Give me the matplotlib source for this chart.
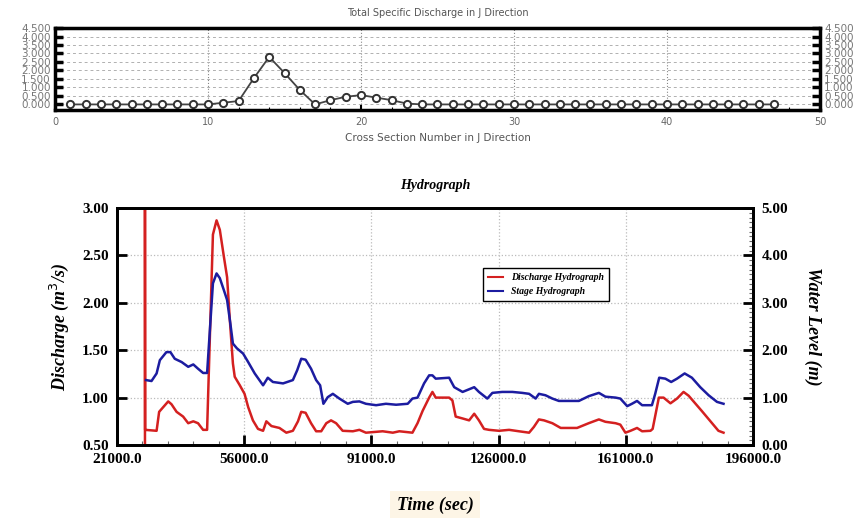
import matplotlib
matplotlib.use("Agg")
import matplotlib.pyplot as plt
from matplotlib.ticker import MultipleLocator, FixedLocator, FormatStrFormatter

# top panel: total specific discharge per cross section
section = [1, 2, 3, 4, 5, 6, 7, 8, 9, 10, 11, 12, 13, 14, 15, 16, 17, 18, 19, 20,
           21, 22, 23, 24, 25, 26, 27, 28, 29, 30, 31, 32, 33, 34, 35, 36, 37, 38,
           39, 40, 41, 42, 43, 44, 45, 46, 47]
specific_q = [0.0, 0.0, 0.0, 0.0, 0.0, 0.0, 0.0, 0.0, 0.0, 0.0, 0.1, 0.2, 1.55, 2.8,
              1.85, 0.85, 0.0, 0.25, 0.45, 0.55, 0.4, 0.25, 0.05, 0.0, 0.0, 0.0, 0.0,
              0.0, 0.0, 0.0, 0.0, 0.0, 0.0, 0.0, 0.0, 0.0, 0.0, 0.0, 0.0, 0.0, 0.0,
              0.0, 0.0, 0.0, 0.0, 0.0, 0.0]

# bottom panel: time axis ticks
time_ticks = [21000, 56000, 91000, 126000, 161000, 196000]

# bottom panel: discharge hydrograph (left axis)
q_time = [28700, 28700, 28750, 31900, 32600, 35100, 36000, 37400, 39200, 40600, 42000,
          43300, 44700, 45800, 47400, 48400, 49300, 50400, 51300, 52000, 52900, 53400,
          54800, 56100, 57100, 58400, 59800, 61200, 62100, 63500, 65700, 67600, 69400,
          70800, 71700, 72900, 74400, 75800, 77200, 78600, 79900, 81300, 83100, 85900,
          87700, 89500, 94100, 96900, 98700, 102300, 103700, 105100, 106900, 107800,
          108700, 110600, 112400, 113300, 114200, 116100, 117900, 119300, 120600,
          122000, 123400, 126100, 128900, 131600, 134400, 135700, 137100, 138500,
          140800, 143100, 145300, 147600, 150800, 153600, 155400, 158200, 159500,
          160900, 162300, 164100, 165500, 167800, 168400, 170100, 171400, 173300,
          175100, 176900, 178300, 180100, 181900, 184200, 186500, 187900]
discharge = [0.40, 3.30, 0.66, 0.65, 0.85, 0.96, 0.93, 0.85, 0.80, 0.73, 0.75,
             0.73, 0.66, 0.66, 2.72, 2.87, 2.77, 2.49, 2.27, 1.85, 1.36, 1.22,
             1.13, 1.04, 0.90, 0.76, 0.67, 0.65, 0.75, 0.70, 0.68, 0.63, 0.65,
             0.75, 0.85, 0.84, 0.73, 0.645, 0.645, 0.73, 0.76, 0.73, 0.65, 0.645,
             0.66, 0.63, 0.645, 0.63, 0.645, 0.63, 0.73, 0.86, 1.00, 1.06,
             1.00, 1.00, 1.00, 0.97, 0.80, 0.78, 0.76, 0.83, 0.76,
             0.67, 0.66, 0.65, 0.66, 0.645, 0.63, 0.69, 0.77, 0.76,
             0.73, 0.68, 0.68, 0.68, 0.73, 0.77, 0.745, 0.73, 0.715,
             0.63, 0.65, 0.68, 0.645, 0.65, 0.67, 1.00, 1.00, 0.94,
             0.99, 1.06, 1.02, 0.94, 0.86, 0.755, 0.65, 0.63]

# bottom panel: stage hydrograph (right axis)
w_time = [29000, 30500, 31900, 32800, 34600, 35700, 36900, 38800, 40600, 42000, 43300,
          44700, 45800, 46500, 47400, 48400, 49300, 50400, 51300, 52200, 52900, 54000,
          55700, 57100, 58900, 61200, 62100, 62500, 63900, 66700, 69400, 70600, 71700,
          72900, 74400, 75800, 76900, 77800, 79000, 80400, 82200, 84500, 85900, 87700,
          89500, 92300, 95000, 97800, 101000, 102300, 103700, 105500, 106900, 107800,
          108700, 112400, 113800, 116100, 119300, 120600, 122900, 124300, 127000,
          129800, 132500, 134400, 136200, 137100, 138900, 140800, 142600, 145300,
          148100, 150800, 153600, 155400, 158200, 159500, 161400, 162700, 164100,
          165500, 168200, 169100, 170200, 171900, 173500, 175100, 177200, 179200,
          181500, 183800, 186100, 187900]
water_level = [1.37, 1.35, 1.51, 1.79, 1.96, 1.96, 1.82, 1.75, 1.65, 1.70, 1.61,
               1.52, 1.52, 2.35, 3.41, 3.62, 3.52, 3.27, 3.06, 2.56, 2.14, 2.04,
               1.93, 1.75, 1.51, 1.26, 1.37, 1.42, 1.33, 1.30, 1.37, 1.58, 1.82,
               1.80, 1.61, 1.37, 1.26, 0.87, 1.01, 1.08, 0.98, 0.87, 0.91, 0.92,
               0.87, 0.84, 0.87, 0.85, 0.87, 0.98, 1.00, 1.30, 1.47, 1.47,
               1.40, 1.42, 1.22, 1.12, 1.22, 1.12, 0.98, 1.10, 1.12,
               1.12, 1.10, 1.08, 0.98, 1.08, 1.05, 0.98, 0.93, 0.93,
               0.93, 1.03, 1.10, 1.02, 1.00, 0.98, 0.82, 0.87, 0.93,
               0.84, 0.84, 1.08, 1.42, 1.40, 1.33, 1.40, 1.51, 1.42,
               1.22, 1.05, 0.91, 0.87]

serif = "Liberation Serif"

fig = plt.figure(figsize=(8.57, 5.18), dpi=100)

# ---- top chart ----
ax1 = fig.add_axes([0.0642, 0.7876, 0.8926, 0.1583])
ax1.plot(section, specific_q, color="#444444", linewidth=1.3, marker="o",
         markersize=5.2, markerfacecolor="white", markeredgecolor="#333333",
         markeredgewidth=1.4)
ax1.set_xlim(0, 50)
ax1.set_ylim(-0.33, 4.5)
ax1.xaxis.set_major_locator(MultipleLocator(10))
ax1.xaxis.set_minor_locator(MultipleLocator(2))
ax1.yaxis.set_major_locator(MultipleLocator(0.5))
ax1.yaxis.set_major_formatter(FormatStrFormatter("%.3f"))
ax1.tick_params(axis="y", which="major", direction="in", length=6, width=2.5,
                left=True, right=True, labelleft=True, labelright=True,
                labelsize=7.5, labelcolor="#777777", pad=3)
ax1.tick_params(axis="x", which="major", direction="in", length=4, width=1.5,
                labelsize=7, labelcolor="#666666", pad=5)
ax1.tick_params(axis="x", which="minor", direction="in", length=2, width=0.8)
ax1.grid(True, axis="y", linestyle=(0, (3, 3)), color="#b0b0b0", linewidth=0.7)
ax1.grid(True, axis="x", linestyle=":", color="#888888", linewidth=0.8)
for s in ax1.spines.values():
    s.set_linewidth(2.5)
ax1.set_title("Total Specific Discharge in J Direction", fontsize=7, color="#555555", pad=9)
ax1.set_xlabel("Cross Section Number in J Direction", fontsize=7.5, color="#555555", labelpad=4)

# ---- bottom chart ----
ax2 = fig.add_axes([0.1365, 0.1409, 0.7421, 0.4575])
ax3 = ax2.twinx()

l1, = ax2.plot(q_time, discharge, color="#d42020", linewidth=1.8, label="Discharge Hydrograph")
l2, = ax3.plot(w_time, water_level, color="#1c1ca0", linewidth=1.8, label="Stage Hydrograph")

ax2.set_xlim(time_ticks[0], time_ticks[-1])
ax2.set_ylim(0.5, 3.0)
ax3.set_ylim(0.0, 5.0)
ax2.xaxis.set_major_locator(FixedLocator(time_ticks))
ax2.xaxis.set_minor_locator(MultipleLocator(7000))
ax2.xaxis.set_major_formatter(FormatStrFormatter("%.1f"))
ax2.yaxis.set_major_locator(MultipleLocator(0.5))
ax2.yaxis.set_major_formatter(FormatStrFormatter("%.2f"))
ax3.yaxis.set_major_locator(MultipleLocator(1.0))
ax3.yaxis.set_minor_locator(MultipleLocator(0.1))
ax3.yaxis.set_major_formatter(FormatStrFormatter("%.2f"))

ax2.tick_params(axis="both", which="major", direction="in", length=7, width=2, labelsize=11, pad=6)
ax2.tick_params(axis="x", which="minor", direction="in", length=3, width=0.8, color="#666666")
ax3.tick_params(axis="y", which="major", direction="in", length=7, width=2, labelsize=11, pad=6)
ax3.tick_params(axis="y", which="minor", direction="in", length=3, width=0.8, color="#666666")
for lab in ax2.get_xticklabels() + ax2.get_yticklabels() + ax3.get_yticklabels():
    lab.set_fontfamily(serif)
    lab.set_fontweight("bold")

ax2.grid(True, linestyle=":", color="#bbbbbb", linewidth=0.9)
for s in ax2.spines.values():
    s.set_linewidth(2)
for s in ax3.spines.values():
    s.set_linewidth(2)

ax2.set_title("Hydrograph", fontsize=10, fontfamily=serif, fontweight="bold",
              fontstyle="italic", pad=14)
ax2.set_ylabel("Discharge (m$^3$/s)", fontsize=13, fontfamily=serif, fontweight="bold",
               fontstyle="italic", labelpad=8)
ax3.set_ylabel("Water Level (m)", fontsize=13, fontfamily=serif, fontweight="bold",
               fontstyle="italic", rotation=270, labelpad=24)
ax2.set_xlabel("Time (sec)", fontsize=13, fontfamily=serif, fontweight="bold",
               fontstyle="italic", labelpad=22,
               bbox=dict(boxstyle="square,pad=0.35", facecolor="#fdf5e6", edgecolor="none"))

leg = ax3.legend(handles=[l1, l2], loc="upper left", bbox_to_anchor=(0.568, 0.766),
                 prop={"family": serif, "weight": "bold", "style": "italic", "size": 7},
                 handlelength=1.6, fancybox=False, edgecolor="black", framealpha=1,
                 borderpad=0.5, labelspacing=0.5)
leg.get_frame().set_linewidth(1.0)
for ln in leg.get_lines():
    ln.set_linewidth(1.5)

fig.savefig("out.png", dpi=100)
